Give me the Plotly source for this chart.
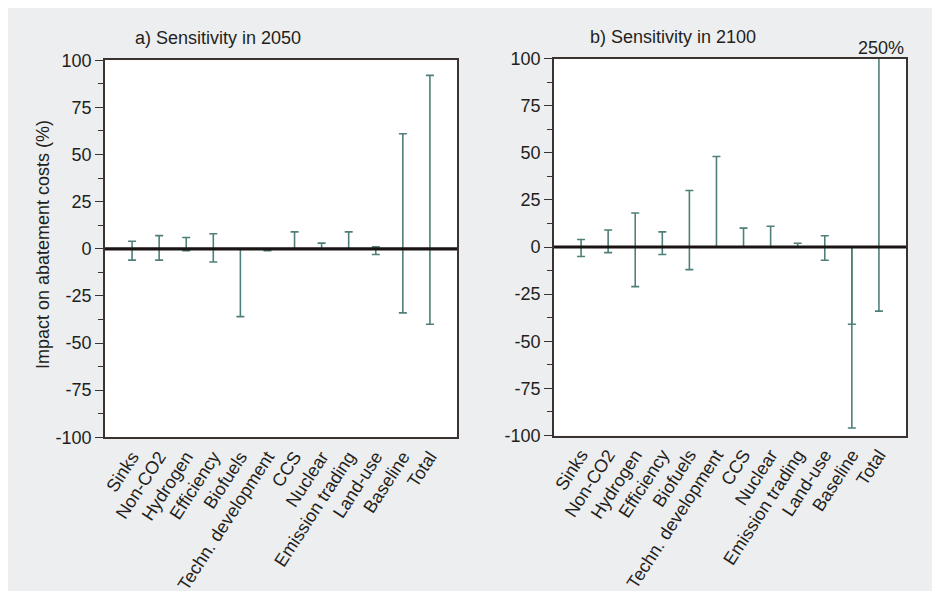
import plotly.graph_objects as go

categories = ["Sinks", "Non-CO2", "Hydrogen", "Efficiency", "Biofuels",
              "Techn. development", "CCS", "Nuclear", "Emission trading",
              "Land-use", "Baseline", "Total"]

# Panel a) 2050: upper and lower end of the sensitivity range (%)
high_2050 = [4, 7, 6, 8, 0, 0, 9, 3, 9, 1, 61, 92]
low_2050 = [-6, -6, -1, -7, -36, -1, 0, 0, 0, -3, -34, -40]

# Panel b) 2100
high_2100 = [4, 9, 18, 8, 30, 48, 10, 11, 2, 6, -41, 250]
low_2100 = [-5, -3, -21, -4, -12, 0, 0, 0, 0, -7, -96, -34]

y_tickvals = [100, 75, 50, 25, 0, -25, -50, -75, -100]
y_ticktext = ["100", "75", "50", "25", "0", "-25", "-50", "-75", "-100"]
y_minor = [87.5, 62.5, 37.5, 12.5, -12.5, -37.5, -62.5, -87.5]

titles = ["a) Sensitivity in 2050", "b) Sensitivity in 2100"]
y_title = "Impact on abatement costs (%)"
overflow_label = "250%"

# The page body has an 8px margin, so the figure is placed 8px in from the
# top-left corner of the window; page pixel positions are converted below.
OFF = 8
W, H = 940 - OFF, 592 - OFF


def px(x):
    return (x - OFF) / W


def py(y):
    return 1 - (y - OFF) / H


BG = "#EDEEF0"
TXT = "#231F20"
AX = "#3A3330"
BAR = "#4F7F78"
FONT = "Liberation Sans, Arial, Helvetica, sans-serif"

fig = go.Figure()

panels = [
    dict(high=high_2050, low=low_2050, xa="x", ya="y"),
    dict(high=high_2100, low=low_2100, xa="x2", ya="y2"),
]

for p in panels:
    zeros = [0] * len(categories)
    # upper part: from 0 to high
    fig.add_trace(go.Scatter(
        x=categories, y=zeros, mode="markers",
        marker=dict(color="rgba(0,0,0,0)", size=1),
        error_y=dict(type="data", symmetric=False, array=p["high"],
                     arrayminus=zeros, color=BAR, thickness=1.6, width=4),
        xaxis=p["xa"], yaxis=p["ya"], showlegend=False, hoverinfo="skip"))
    # lower part: from 0 to low
    fig.add_trace(go.Scatter(
        x=categories, y=zeros, mode="markers",
        marker=dict(color="rgba(0,0,0,0)", size=1),
        error_y=dict(type="data", symmetric=False, array=zeros,
                     arrayminus=[-v for v in p["low"]], color=BAR,
                     thickness=1.6, width=4),
        xaxis=p["xa"], yaxis=p["ya"], showlegend=False, hoverinfo="skip"))

xa_dom = [px(105), px(457)]
xb_dom = [px(554), px(906)]
ya_dom = [py(437.3), py(60.3)]
yb_dom = [py(435.5), py(58.5)]

xcommon = dict(type="category", categoryorder="array", categoryarray=categories,
               range=[-1, 12], showline=True, linecolor=AX, linewidth=1.6,
               mirror=True, ticks="", tickangle=-57, showgrid=False,
               zeroline=False, automargin=False,
               tickfont=dict(size=18, color=TXT, family=FONT))
ycommon = dict(range=[-100, 100], showline=True, linecolor=AX, linewidth=1.6,
               mirror=True, ticks="outside", ticklen=8, tickwidth=1.4,
               tickcolor=AX, tickvals=y_tickvals, ticktext=y_ticktext,
               minor=dict(tickvals=y_minor, ticks="outside", ticklen=5,
                          tickwidth=1.4, tickcolor=AX),
               showgrid=False, zeroline=False, automargin=False,
               tickfont=dict(size=18, color=TXT, family=FONT))

shapes = [
    dict(type="rect", xref="paper", yref="paper", x0=0, x1=1.0,
         y0=py(591), y1=1.0, fillcolor=BG, line=dict(width=0),
         layer="below"),
    dict(type="rect", xref="paper", yref="paper", x0=xa_dom[0], x1=xa_dom[1],
         y0=ya_dom[0], y1=ya_dom[1], fillcolor="white", line=dict(width=0),
         layer="below"),
    dict(type="rect", xref="paper", yref="paper", x0=xb_dom[0], x1=xb_dom[1],
         y0=yb_dom[0], y1=yb_dom[1], fillcolor="white", line=dict(width=0),
         layer="below"),
    dict(type="line", xref="x", yref="y", x0=-1.08, x1=12.05, y0=0, y1=0,
         line=dict(color="#1A1514", width=3.2), layer="above"),
    dict(type="line", xref="x2", yref="y2", x0=-1.0, x1=12.1, y0=0, y1=0,
         line=dict(color="#1A1514", width=3.2), layer="above"),
]

annotations = [
    dict(text=titles[0], xref="paper", yref="paper", x=px(218), y=py(38),
         xanchor="center", yanchor="middle", showarrow=False,
         font=dict(size=18, color=TXT, family=FONT)),
    dict(text=titles[1], xref="paper", yref="paper", x=px(673), y=py(37),
         xanchor="center", yanchor="middle", showarrow=False,
         font=dict(size=18, color=TXT, family=FONT)),
    dict(text=overflow_label, xref="paper", yref="paper", x=px(881), y=py(48),
         xanchor="center", yanchor="middle", showarrow=False,
         font=dict(size=18, color=TXT, family=FONT)),
    dict(text=y_title, xref="paper", yref="paper", x=px(43), y=py(245),
         xanchor="center", yanchor="middle", showarrow=False, textangle=-90,
         font=dict(size=18, color=TXT, family=FONT)),
]

fig.update_layout(
    template="none",
    width=W, height=H, autosize=False,
    margin=dict(l=0, r=0, t=0, b=0, pad=0),
    paper_bgcolor="white", plot_bgcolor="white",
    font=dict(family=FONT, color=TXT, size=18),
    xaxis=dict(domain=xa_dom, anchor="y", **xcommon),
    yaxis=dict(domain=ya_dom, anchor="x", **ycommon),
    xaxis2=dict(domain=xb_dom, anchor="y2", **xcommon),
    yaxis2=dict(domain=yb_dom, anchor="x2", **ycommon),
    shapes=shapes, annotations=annotations,
)

fig.write_html("out.html")
